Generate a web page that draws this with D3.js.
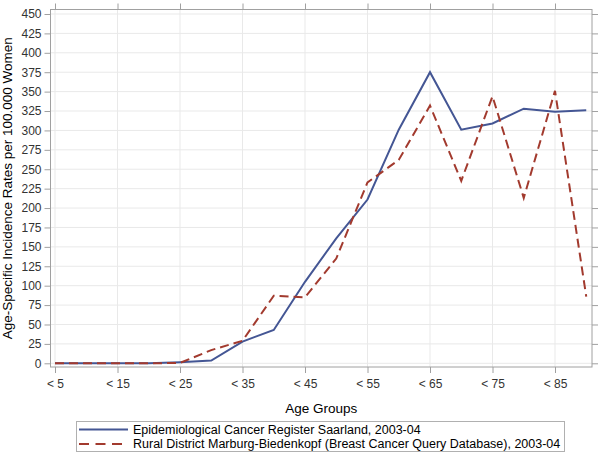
<!DOCTYPE html>
<html>
<head>
<meta charset="utf-8">
<script src="https://cdn.jsdelivr.net/npm/d3@7"></script>
<style>
  body { margin: 0; background: #fff; }
  svg { font-family: "Liberation Sans", Arial, sans-serif; }
</style>
</head>
<body>
<div id="container"></div>
<script>
// age groups, one point per 5 years
var ageGroups = ["< 5", "< 10", "< 15", "< 20", "< 25", "< 30", "< 35", "< 40", "< 45",
    "< 50", "< 55", "< 60", "< 65", "< 70", "< 75", "< 80", "< 85", ">= 85"];
var tickLabels = ["< 5", "< 15", "< 25", "< 35", "< 45", "< 55", "< 65", "< 75", "< 85"];
var yTicks = d3.range(0, 451, 25);
var saarland = [0, 0, 0, 0, 1.5, 3.5, 28, 43, 105, 161, 211, 301, 375, 301, 309, 328, 324, 326];
var marburg = [0, 0, 0, 0, 0.5, 17, 29, 87, 85, 135, 233, 262, 332, 235, 344, 213, 351, 86];
var seriesNames = ["Epidemiological Cancer Register Saarland, 2003-04",
    "Rural District Marburg-Biedenkopf (Breast Cancer Query Database), 2003-04"];

var width = 600, height = 453;
var frame = { left: 50.5, right: 592, top: 9.5, bottom: 367 };

var x = d3.scalePoint().domain(ageGroups).range([55, 586.25]);
var y = d3.scaleLinear().domain([0, 450]).range([363.3, 14]);

var svg = d3.select('#container').append('svg')
    .attr('width', width).attr('height', height);

// grid
svg.append('g').selectAll('line').data(yTicks).enter().append('line')
    .attr('x1', frame.left).attr('x2', frame.right)
    .attr('y1', function (d) { return y(d); }).attr('y2', function (d) { return y(d); })
    .attr('stroke', '#e9e9e9');
svg.append('g').selectAll('line').data(tickLabels).enter().append('line')
    .attr('x1', function (d) { return x(d); }).attr('x2', function (d) { return x(d); })
    .attr('y1', frame.top).attr('y2', frame.bottom)
    .attr('stroke', '#e9e9e9');

// axes (bottom/left with labels, top/right mirrored)
var xAxis = d3.axisBottom(x).tickValues(tickLabels).tickSize(6).tickPadding(5).tickSizeOuter(0);
var yAxis = d3.axisLeft(y).tickValues(yTicks).tickSize(6).tickPadding(3).tickSizeOuter(0);

var gx = svg.append('g').attr('transform', 'translate(0,' + frame.bottom + ')').call(xAxis);
var gy = svg.append('g').attr('transform', 'translate(' + frame.left + ',0)').call(yAxis);
var gx2 = svg.append('g').attr('transform', 'translate(0,' + frame.top + ')')
    .call(d3.axisTop(x).tickValues(tickLabels).tickSize(6).tickSizeOuter(0).tickFormat(''));
var gy2 = svg.append('g').attr('transform', 'translate(' + frame.right + ',0)')
    .call(d3.axisRight(y).tickValues(yTicks).tickSize(6).tickSizeOuter(0).tickFormat(''));

[gx, gy, gx2, gy2].forEach(function (g) {
    g.select('.domain').remove();
    g.selectAll('line').attr('stroke', '#a0a0a0');
    g.selectAll('text').attr('fill', '#333').style('font-size', '12px');
});
gx.selectAll('text').attr('dy', '0.85em');

svg.append('rect')
    .attr('x', frame.left).attr('y', frame.top)
    .attr('width', frame.right - frame.left).attr('height', frame.bottom - frame.top)
    .attr('fill', 'none').attr('stroke', '#a0a0a0');

// titles
svg.append('text').attr('x', (frame.left + frame.right) / 2).attr('y', 413)
    .attr('text-anchor', 'middle').style('font-size', '13.5px').attr('fill', '#000')
    .text('Age Groups');
svg.append('text').attr('transform', 'translate(12,' + ((frame.top + frame.bottom) / 2) + ') rotate(-90)')
    .attr('text-anchor', 'middle').style('font-size', '13.5px').attr('fill', '#000')
    .text('Age-Specific Incidence Rates per 100.000 Women');

// lines
var line = d3.line()
    .x(function (d, i) { return x(ageGroups[i]); })
    .y(function (d) { return y(d); });

svg.append('path').datum(saarland).attr('d', line)
    .attr('fill', 'none').attr('stroke', '#445694').attr('stroke-width', 2);
svg.append('path').datum(marburg).attr('d', line)
    .attr('fill', 'none').attr('stroke', '#a23a2e').attr('stroke-width', 2)
    .attr('stroke-dasharray', '9,5');

// legend
var legend = svg.append('g');
legend.append('rect').attr('x', 76.5).attr('y', 421.5).attr('width', 488).attr('height', 30)
    .attr('fill', '#fff').attr('stroke', '#b0b0b0');
var styles = [{ c: '#445694', dash: null }, { c: '#a23a2e', dash: '10,6.5' }];
seriesNames.forEach(function (name, i) {
    var cy = 429.5 + i * 14.5;
    legend.append('line').attr('x1', 79).attr('x2', 128).attr('y1', cy).attr('y2', cy)
        .attr('stroke', styles[i].c).attr('stroke-width', 2)
        .attr('stroke-dasharray', styles[i].dash);
    legend.append('text').attr('x', 133).attr('y', cy).attr('dy', '0.35em')
        .style('font-size', '12.5px').attr('fill', '#000').text(name);
});
</script>
</body>
</html>
